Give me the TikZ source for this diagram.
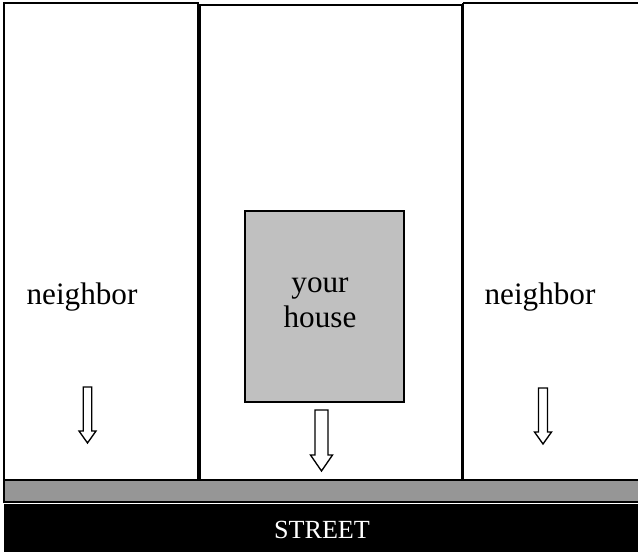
\documentclass[tikz,border=0pt]{standalone}
\usepackage{fontspec}
\setmainfont{Liberation Serif}
\usepackage{tikz}
\usetikzlibrary{positioning}

\definecolor{housegray}{HTML}{C0C0C0}
\definecolor{walkgray}{HTML}{969696}

% block arrow pointing down: x, top, tip, shaft width, head width, head length
\newcommand{\downarrowblock}[6]{%
  \draw[blockarrow] (#1-#4/2,#2) -- (#1+#4/2,#2) -- (#1+#4/2,#3-#6)
    -- (#1+#5/2,#3-#6) -- (#1,#3) -- (#1-#5/2,#3-#6)
    -- (#1-#4/2,#3-#6) -- cycle;}

\begin{document}
\begin{tikzpicture}[
  x=0.75pt, y=-0.75pt,
  lot/.style={draw=black, line width=1.5pt, fill=white},
  blockarrow/.style={draw=black, line width=1pt, fill=white,
                     line join=miter},
  label/.style={font=\fontsize{23.4}{26.5}\selectfont, align=center,
                inner sep=0pt},
]
  \useasboundingbox (0,0) rectangle (638,552);

  % lots
  \draw[lot] (4,3) rectangle (198,480);
  \draw[lot] (200,5) rectangle (462,480);
  \draw[lot] (463,3) -- (645,3) (463,3) -- (463,480) -- (645,480);

  % your house
  \draw[draw=black, line width=1.5pt, fill=housegray]
    (245,211) rectangle (404,402);

  % sidewalk and street
  \draw[draw=black, line width=1.5pt, fill=walkgray]
    (4,480) rectangle (645,502);
  \fill[black] (4,504) rectangle (645,552);

  % texts
  \node[label] (neighborL) at (82,297) {neighbor};
  \node[label] (house) at (320,303) {your\\house};
  \node[label] (neighborR) at (540,297) {neighbor};
  \node[font=\fontsize{19.6}{22}\selectfont, text=white, inner sep=0pt]
    (street) at (322,530) {STREET};

  % driveway arrows
  \downarrowblock{87.5}{387}{443}{8.5}{17}{12}
  \downarrowblock{321.5}{410}{471}{13}{22}{16}
  \downarrowblock{543}{388}{444}{9}{17}{12}
\end{tikzpicture}
\end{document}
